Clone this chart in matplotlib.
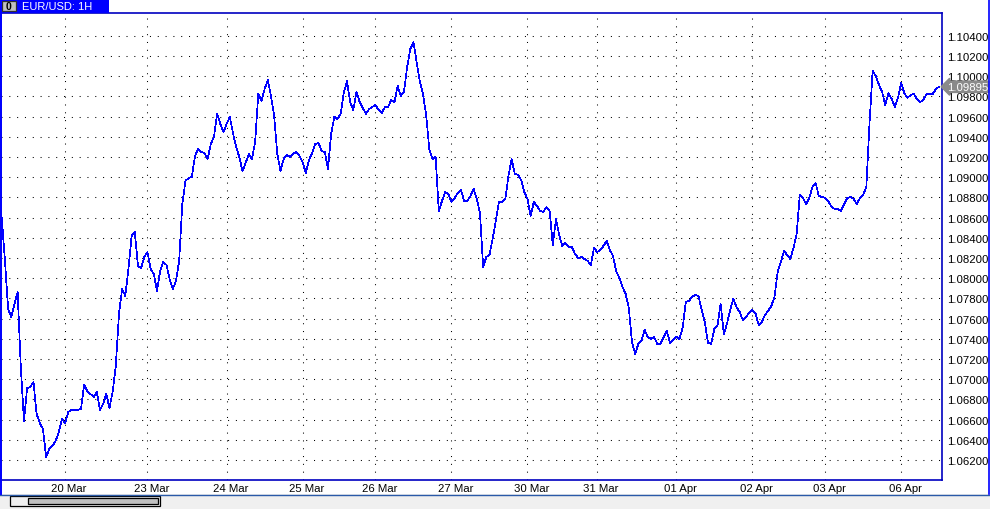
import matplotlib
matplotlib.use("Agg")
import matplotlib.pyplot as plt
import numpy as np
from matplotlib.patches import Rectangle
from matplotlib.transforms import ScaledTranslation, blended_transform_factory

symbol = "EUR/USD: 1H"

# hourly closes, one per bar
close = [
    1.08596, 1.08170, 1.07695, 1.07616, 1.07745, 1.07863, 1.07121, 1.06586, 1.06913, 1.06923,
    1.06972, 1.06656, 1.06566, 1.06507, 1.06230, 1.06309, 1.06339, 1.06388, 1.06477, 1.06606,
    1.06566, 1.06675, 1.06695, 1.06695, 1.06695, 1.06705, 1.06943, 1.06883, 1.06854, 1.06824,
    1.06873, 1.06695, 1.06755, 1.06854, 1.06715, 1.06873, 1.07131, 1.07646, 1.07893, 1.07824,
    1.08091, 1.08418, 1.08457, 1.08121, 1.08101, 1.08210, 1.08259, 1.08091, 1.08042, 1.07873,
    1.08071, 1.08160, 1.08131, 1.07992, 1.07893, 1.07972, 1.08170, 1.08735, 1.08962, 1.08992,
    1.09002, 1.09210, 1.09279, 1.09249, 1.09239, 1.09180, 1.09329, 1.09398, 1.09626, 1.09527,
    1.09447, 1.09527, 1.09596, 1.09437, 1.09299, 1.09200, 1.09061, 1.09140, 1.09230, 1.09180,
    1.09348, 1.09824, 1.09754, 1.09873, 1.09962, 1.09804, 1.09606, 1.09230, 1.09061, 1.09180,
    1.09220, 1.09200, 1.09230, 1.09249, 1.09210, 1.09150, 1.09041, 1.09170, 1.09239, 1.09329,
    1.09338, 1.09259, 1.09249, 1.09081, 1.09428, 1.09596, 1.09576, 1.09626, 1.09833, 1.09952,
    1.09744, 1.09665, 1.09843, 1.09744, 1.09685, 1.09626, 1.09675, 1.09695, 1.09715, 1.09665,
    1.09635, 1.09695, 1.09695, 1.09764, 1.09744, 1.09903, 1.09804, 1.09843, 1.10091, 1.10269,
    1.10338, 1.10140, 1.09952, 1.09824, 1.09616, 1.09279, 1.09180, 1.09200, 1.08665, 1.08764,
    1.08853, 1.08834, 1.08754, 1.08794, 1.08843, 1.08873, 1.08764, 1.08764, 1.08814, 1.08883,
    1.08784, 1.08645, 1.08111, 1.08210, 1.08230, 1.08388, 1.08566, 1.08754, 1.08754, 1.08784,
    1.09012, 1.09180, 1.09032, 1.09022, 1.08972, 1.08853, 1.08784, 1.08616, 1.08754, 1.08715,
    1.08665, 1.08655, 1.08705, 1.08665, 1.08329, 1.08586, 1.08428, 1.08319, 1.08348, 1.08309,
    1.08309, 1.08240, 1.08200, 1.08210, 1.08190, 1.08170, 1.08131, 1.08299, 1.08259, 1.08279,
    1.08319, 1.08368, 1.08279, 1.08220, 1.08071, 1.08002, 1.07913, 1.07844, 1.07705, 1.07368,
    1.07250, 1.07349, 1.07378, 1.07487, 1.07418, 1.07398, 1.07418, 1.07349, 1.07349, 1.07418,
    1.07477, 1.07358, 1.07388, 1.07418, 1.07398, 1.07507, 1.07764, 1.07774, 1.07814, 1.07834,
    1.07824, 1.07685, 1.07566, 1.07358, 1.07349, 1.07497, 1.07527, 1.07745, 1.07448, 1.07547,
    1.07685, 1.07794, 1.07715, 1.07665, 1.07586, 1.07616, 1.07655, 1.07685, 1.07655, 1.07537,
    1.07566, 1.07636, 1.07675, 1.07725, 1.07814, 1.08061, 1.08160, 1.08269, 1.08230, 1.08190,
    1.08299, 1.08438, 1.08824, 1.08794, 1.08735, 1.08794, 1.08903, 1.08942, 1.08814, 1.08804,
    1.08794, 1.08764, 1.08705, 1.08685, 1.08685, 1.08665, 1.08735, 1.08794, 1.08804, 1.08784,
    1.08735, 1.08794, 1.08824, 1.08903, 1.09527, 1.10051, 1.10002, 1.09913, 1.09843, 1.09715,
    1.09833, 1.09774, 1.09695, 1.09784, 1.09932, 1.09833, 1.09784, 1.09814, 1.09824, 1.09774,
    1.09744, 1.09764, 1.09824, 1.09824, 1.09824, 1.09873, 1.09895,
]

day_labels = ["20 Mar", "23 Mar", "24 Mar", "25 Mar", "26 Mar", "27 Mar",
              "30 Mar", "31 Mar", "01 Apr", "02 Apr", "03 Apr", "06 Apr"]
day_bar = [20, 46, 71, 95, 118, 142, 166, 188, 213, 237, 260, 284]

price_ticks = np.round(np.arange(1.062, 1.1041, 0.002), 3)

W, H = 990, 510
plt.rcParams['font.family'] = ['Liberation Sans', 'DejaVu Sans']
fig = plt.figure(figsize=(W / 100, H / 100), dpi=100)
fig.patch.set_facecolor('white')

ax = fig.add_axes([1 / W, 29 / H, 941 / W, 467 / H])
ax.plot(np.arange(len(close)), close, color='#0000ff', lw=0.5, antialiased=False)
ax.set_xlim(-0.25, 296.9)
ax.set_ylim(1.06002, 1.10625)

ax.set_yticks(price_ticks, ['%.5f' % p for p in price_ticks])
ax.yaxis.tick_right()
ax.tick_params(axis='y', length=0, pad=3.6, labelsize=8.2)
ax.set_xticks(day_bar, day_labels)
ax.tick_params(axis='x', length=0, pad=2.2, labelsize=8.2)
shift = ScaledTranslation(4 / 100, 0, fig.dpi_scale_trans)
for lab in ax.get_xticklabels():
    lab.set_transform(lab.get_transform() + shift)

ax.grid(True, color='black', lw=0.75, ls=(0, (1, 6.5)))
for s in ax.spines.values():
    s.set_color('#0000c0')
    s.set_linewidth(1.2)

# current price marker on the right scale
last = close[-1]
tr = blended_transform_factory(ax.transAxes, ax.transData)
ax.text(1 + 5 / 941, last, '%.5f' % last, transform=tr, ha='left', va='center',
        color='white', fontsize=8.2, zorder=10, clip_on=False,
        bbox=dict(boxstyle='larrow,pad=0.06', fc='#8a8a8a', ec='#8a8a8a'))

# window chrome
ov = fig.add_axes([0, 0, 1, 1])
ov.set_xlim(0, W)
ov.set_ylim(H, 0)
ov.axis('off')
ov.set_zorder(5)
ov.add_patch(Rectangle((0, 495), W, 15, fc='#f0f0f0', ec='none'))
ov.plot([0, W], [495.5, 495.5], color='#2a5aa8', lw=1)
ov.add_patch(Rectangle((10, 497), 150, 10, fc='#f0f0f0', ec='black', lw=0.9))
ov.add_patch(Rectangle((28, 499), 130, 6, fc='#c0c0c0', ec='black', lw=0.9))
ov.plot([0.7, 0.7], [0, 495], color='#0000ff', lw=1.4)
ov.plot([988.5, 988.5], [0, 495], color='#0000ff', lw=1.2)
ov.add_patch(Rectangle((0, 0), 109, 14, fc='#0000ff', ec='none'))
ov.add_patch(Rectangle((2, 2), 14, 10, fc='#c0c0c0', ec='#303030', lw=0.9))
ov.text(9, 7.3, '0', color='black', fontsize=7.5, fontweight='bold', ha='center', va='center')
ov.text(22, 7.5, symbol, color='white', fontsize=8, ha='left', va='center')

fig.savefig('out.png', dpi=100)
